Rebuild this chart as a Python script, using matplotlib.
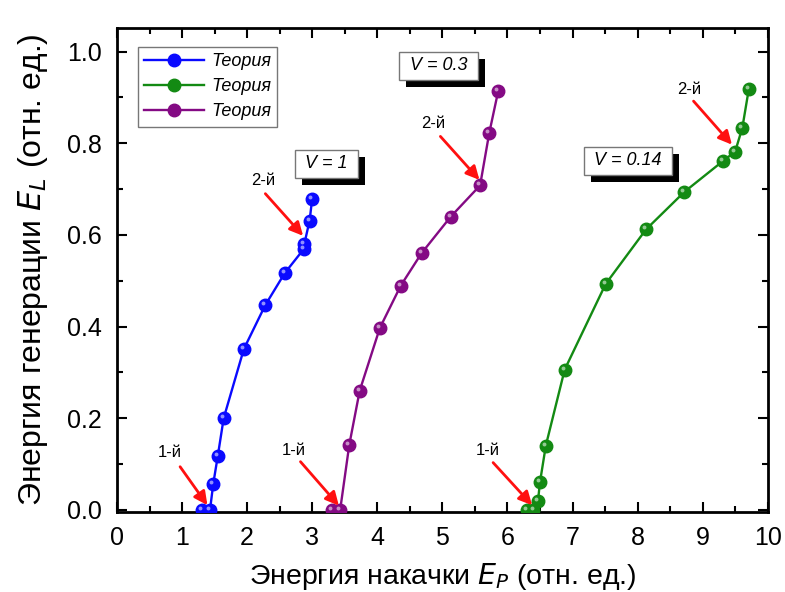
import matplotlib
matplotlib.use("Agg")
import matplotlib.pyplot as plt
from matplotlib.ticker import MultipleLocator, FormatStrFormatter
import matplotlib.transforms as mtransforms
import matplotlib.patheffects as pe

plt.rcParams['font.family'] = ['Liberation Sans', 'DejaVu Sans']

# data
blue_x = [1.30, 1.43, 1.48, 1.55, 1.64, 1.95, 2.28, 2.58, 2.87, 2.88, 2.96, 3.00]
blue_y = [0.0, 0.0, 0.057, 0.118, 0.200, 0.351, 0.447, 0.517, 0.569, 0.581, 0.631, 0.679]
purple_x = [3.30, 3.43, 3.57, 3.73, 4.04, 4.36, 4.68, 5.13, 5.58, 5.72, 5.86]
purple_y = [0.0, 0.0, 0.142, 0.260, 0.397, 0.489, 0.560, 0.640, 0.708, 0.822, 0.915]
green_x = [6.30, 6.40, 6.47, 6.50, 6.59, 6.88, 7.51, 8.13, 8.72, 9.31, 9.50, 9.61, 9.71]
green_y = [0.0, 0.0, 0.020, 0.060, 0.140, 0.306, 0.493, 0.612, 0.694, 0.761, 0.782, 0.834, 0.919]

series = [
    (blue_x, blue_y, "#0a0aff", "Теория"),
    (green_x, green_y, "#138a13", "Теория"),
    (purple_x, purple_y, "#840a84", "Теория"),
]

# labels: (text, text pos, arrow tail, arrow head)
arrows = [
    ("1-й", (0.81, 0.126), (0.97, 0.094), (1.39, 0.010)),
    ("1-й", (2.71, 0.130), (2.82, 0.105), (3.41, 0.009)),
    ("1-й", (5.69, 0.130), (5.78, 0.103), (6.38, 0.010)),
    ("2-й", (2.25, 0.719), (2.28, 0.690), (2.86, 0.598)),
    ("2-й", (4.86, 0.843), (4.97, 0.815), (5.57, 0.720)),
    ("2-й", (8.80, 0.918), (8.86, 0.892), (9.45, 0.797)),
]
vboxes = [(" V = 1 ", 3.22, 0.755), (" V = 0.3 ", 4.94, 0.969), (" V = 0.14 ", 7.85, 0.762)]

fig = plt.figure(figsize=(7.85, 5.92), dpi=100)
ax = fig.add_axes([0.149, 0.135, 0.829, 0.818])

for xs, ys, c, lab in series:
    ax.plot(xs, ys, "-o", color=c, lw=1.7, ms=9, mec=c, mfc=c, label=lab, zorder=3)
    hl = mtransforms.offset_copy(ax.transData, fig=fig, x=-1.4, y=1.4, units='points')
    ax.plot(xs, ys, "o", color="white", ms=2.8, alpha=0.55, mew=0, transform=hl, zorder=4)

for txt, tp, tail, head in arrows:
    ax.text(tp[0], tp[1], txt, fontsize=12, ha="center", va="center", zorder=5)
    ax.annotate("", xy=head, xytext=tail,
                arrowprops=dict(arrowstyle="-|>", color="#ff1010", lw=2,
                                mutation_scale=20, shrinkA=0, shrinkB=0), zorder=5)

for txt, x, y in vboxes:
    t = ax.text(x, y, txt, fontsize=13, style="italic", ha="center", va="center",
                bbox=dict(boxstyle="square,pad=0.3", fc="white", ec="#777777", lw=1), zorder=6)
    t.get_bbox_patch().set_path_effects(
        [pe.SimplePatchShadow(offset=(5, -5), shadow_rgbFace="black", alpha=1), pe.Normal()])

ax.set_xlim(0, 10)
ax.set_ylim(-0.005, 1.052)
ax.xaxis.set_major_locator(MultipleLocator(1))
ax.xaxis.set_minor_locator(MultipleLocator(0.5))
ax.yaxis.set_major_locator(MultipleLocator(0.2))
ax.yaxis.set_minor_locator(MultipleLocator(0.1))
ax.yaxis.set_major_formatter(FormatStrFormatter("%.1f"))
ax.tick_params(which="both", direction="in", top=True, right=True, width=1.5)
ax.tick_params(which="major", length=7, labelsize=18)
ax.tick_params(axis="y", which="major", pad=11)
ax.tick_params(axis="x", which="major", pad=10)
ax.tick_params(which="minor", length=4)
for s in ax.spines.values():
    s.set_linewidth(2)

ax.set_xlabel("Энергия накачки $\\mathit{E}_{P}$ (отн. ед.)", fontsize=20.5, labelpad=8)
ax.set_ylabel("Энергия генерации $\\mathit{E}_{L}$ (отн. ед.)", fontsize=23, labelpad=12)

leg = ax.legend(loc="upper left", bbox_to_anchor=(0.032, 0.961), handlelength=3.3,
                prop=dict(size=13, style="italic"), fancybox=False, framealpha=1,
                edgecolor="#777777", borderpad=0.35, labelspacing=0.45, handletextpad=0.4,
                borderaxespad=0)
leg.get_frame().set_linewidth(1)

fig.savefig("out.png", dpi=100)
